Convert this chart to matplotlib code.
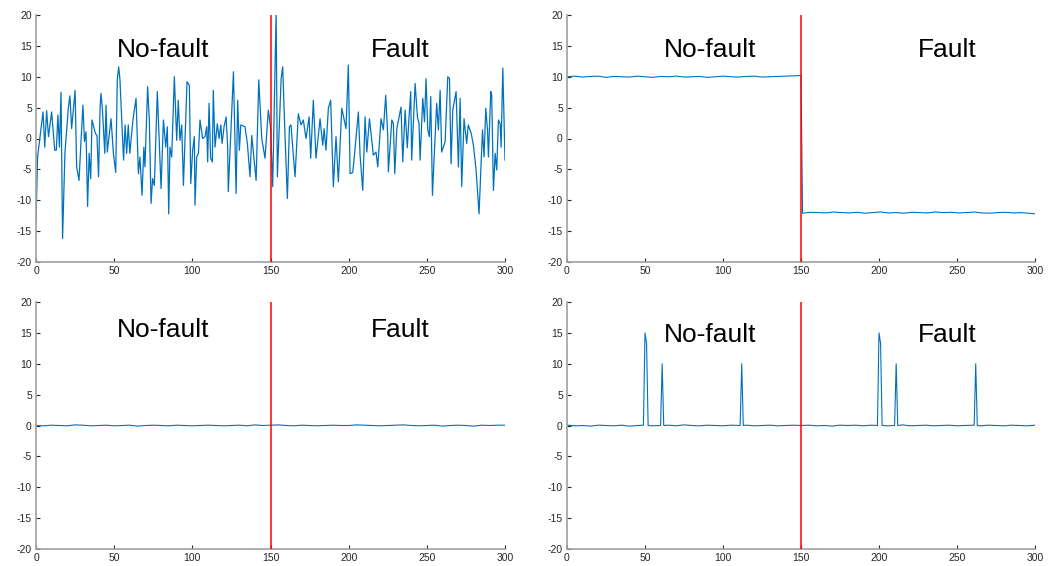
import numpy as np
import matplotlib
matplotlib.use("Agg")
import matplotlib.pyplot as plt

plt.rcParams['font.family'] = ['Liberation Sans', 'DejaVu Sans']
plt.rcParams['axes.unicode_minus'] = False

# panel 1 - noisy signal
t1 = [0, 1, 4.5, 5.6, 6.8, 8, 10, 12, 13, 14, 15, 16, 17, 18.5, 20.7, 21.7, 22.8, 25, 26, 27.5,
      30, 31, 32, 33, 34, 35, 35.8, 38, 39, 40, 41, 41.6, 42.5, 44, 44.8, 45.6, 48, 49.5, 51, 52,
      52.9, 53.7, 56, 57, 58, 59, 60, 62, 64, 65.5, 66.5, 67.8, 69, 69.7, 71.4, 72.5, 73.6, 74.6, 75.7, 77.6,
      80, 81.5, 83, 84, 84.9, 85.7, 86.8, 88.5, 90, 91, 92.1, 93.2, 94.3, 96.6, 98.1, 99, 100.2, 101.3, 101.7, 102.8,
      103.9, 104.9, 106.6, 108.1, 109.2, 109.8, 110.7, 111.7, 112.8, 113.4, 114.5, 116, 117.1, 118.2, 119, 120.3, 121.6, 122.6, 123, 125.2,
      126.3, 128, 129, 130.1, 131, 133.7, 135.2, 136.9, 138, 140.8, 142.5, 144.4, 146.5, 148.6, 150, 151.4, 153.6, 154.4, 156.8, 157.8,
      159.3, 160.8, 162.1, 163.1, 165.7, 167.8, 169.5, 171, 172.7, 174.7, 175.7, 177.4, 179.1, 181.7, 183.4, 184.3, 185.5, 187, 188.5, 190.2,
      191.9, 193.4, 195.6, 198.3, 199.8, 200.9, 202.6, 204, 206.2, 207.3, 209, 210.5, 211.6, 213.3, 215.8, 217.5, 218.6, 220.7, 222.2, 223.7,
      225, 225.4, 227.6, 228.6, 229.5, 230.8, 233.5, 234.6, 236.1, 237.5, 238.5, 239.7, 240.3, 241.4, 242.5, 244, 245, 245.7, 247.4, 248.5,
      249.5, 250.6, 251.6, 252.5, 253.6, 254.6, 256.3, 257.4, 258.5, 259.5, 261.7, 263.4, 264.5, 265.5, 266.6, 268.7, 270.2, 271.3, 272.3, 273.8,
      275.5, 276.5, 278.4, 279.8, 281.5, 283.4, 285.6, 286.6, 287.7, 288.8, 289.4, 290.9, 291.5, 292.6, 293.7, 294.7, 295.8, 296.9, 297.5, 298.6,
      300]
y1 = [-13.5, -3, 4.3, -1.4, 4.5, 0.3, 4.3, -1.9, -1.9, 3.8, -1.4, 7.5, -16.2, -2.4, 5, 6.9, 1.6, 7.8, -4.6, -6.8,
      5.4, -0.5, 1.1, -11, -2.4, -6.5, 3, 0.8, 0.5, -6.2, 5.1, 7.3, 4.6, -2.4, 5.4, -2.2, 3.2, -2.4, -5.5, 9.5,
      11.6, 9.5, -3.5, 2.2, -2.4, 2.2, -2.4, 3, 6.5, -5.7, -3, -9.2, -1.4, -4.6, 8.4, 3, -10.5, -6.5, -7.6, 7.6,
      -8.1, 3, -1.4, 1.9, -12.2, -1.4, -3, 10, -0.3, 6.2, -0.3, 2.2, -7.6, 9.2, 8.6, -7.3, -1.9, 0.3, -10.8, -3,
      -2.4, 3, 0, 0.3, 1.9, -3.8, 5.7, -3.2, -3.8, 7.8, -1.4, 2.4, 0, 2.2, -0.8, 1.9, 3.5, -1.4, -8.6, 4.6,
      10.8, -8.9, 6.2, -1.9, 2.2, 1.9, -0.8, -6.2, 0.5, -6.8, 9.5, 0, -3.2, 4.6, 1.9, -7.8, 20.5, -6.2, 9.7, 11.6,
      0.3, -9.7, 1.9, 2.2, -6.2, 4, 2.2, 3, 0, 3.5, -3.2, 6.2, -3.2, 3.2, -1.1, 1.6, -1.9, 4.9, 6.2, -7.8,
      0.3, -7, 4.9, 1.6, 11.9, -5.7, -5.5, -1.9, 4.3, -2.7, -8.4, 3.5, -2.2, 3.2, -2.7, -2.2, -4.6, 3.2, 1.4, 7,
      0.3, -5.4, 3, 2.4, -5.7, 1.6, 5.1, -3.8, 4.6, -1.5, 3, 7.6, -3.5, 2.7, 8.9, 3.5, 2.4, -3.5, 6.5, 2.7,
      9.7, 1.4, 0.3, 6.8, -9.2, -3.5, 5.7, 1.4, 7.8, -2.2, -0.5, 10, 9.7, -4.1, 4.6, 7.6, -4.6, 6.5, -7.8, 3.2,
      -0.8, 2.2, 0.8, -1.1, -5.1, -12.2, 1.4, -3, 4.9, 1.4, -3, 7.6, 7, -8.4, -2.4, -5.1, 3, 2.4, -1.4, 11.4,
      -3.5]

# panel 2 - level shift at 150
t2_nf = np.arange(0, 151, 5)
y2_nf = [10.0, 10.1, 9.95, 10.05, 10.1, 9.9, 10.05, 10.0, 9.95, 10.1, 10.0, 9.9, 10.05, 10.0, 10.1, 9.95,
         10.0, 10.05, 9.9, 10.0, 10.1, 10.0, 9.95, 10.05, 10.1, 9.95, 10.0, 10.05, 10.1, 10.15, 10.2]
t2_f = np.append(np.arange(151, 300, 5), 300)
y2_f = [-12.1, -11.95, -12.0, -12.05, -11.9, -12.0, -12.05, -11.95, -12.1, -12.0, -11.9, -12.05, -12.0, -12.1, -11.95,
        -12.0, -12.05, -11.9, -12.0, -11.95, -12.05, -12.0, -11.9, -12.05, -12.1, -12.0, -11.95, -12.05, -12.0, -12.1, -12.2]

# panel 3 - flat around zero
t3 = np.arange(0, 301, 5)
y3 = [0.0, -0.05, 0.05, 0.0, -0.05, 0.1, 0.05, -0.05, 0.0, 0.05, -0.05, 0.0, 0.05, -0.1, 0.0, 0.05,
      0.0, -0.05, 0.05, 0.0, -0.05, 0.0, 0.05, 0.0, -0.05, 0.0, 0.05, -0.05, 0.1, 0.0, 0.05, 0.1,
      0.0, -0.05, 0.05, 0.0, -0.05, 0.0, 0.05, 0.0, 0.0, 0.1, 0.05, 0.0, -0.05, 0.0, 0.05, 0.1,
      0.0, -0.05, 0.0, 0.05, -0.1, 0.0, 0.05, 0.0, -0.1, 0.05, 0.0, 0.05, 0.05]

# panel 4 - spikes
t4 = [0, 5, 10, 15, 20, 25, 30, 35, 40, 45,
      49, 50, 51, 52, 55, 60, 61, 62, 65, 70,
      75, 80, 85, 90, 95, 100, 105, 111, 112, 113,
      115, 120, 125, 130, 135, 140, 145, 150, 155, 160,
      165, 170, 175, 180, 185, 190, 195, 199, 200, 201,
      202, 205, 210, 211, 212, 215, 220, 225, 230, 235,
      240, 245, 250, 255, 261, 262, 263, 265, 270, 275,
      280, 285, 290, 295, 300]
y4 = [0.05, -0.05, 0.0, -0.1, 0.05, 0.0, -0.05, 0.05, -0.1, 0.0,
      0.05, 15, 13.3, 0.0, -0.05, 0.0, 10, 0.0, 0.05, -0.05,
      0.1, 0.0, -0.05, 0.05, 0.0, -0.05, 0.05, 0.0, 10, 0.0,
      0.05, -0.05, 0.0, 0.05, -0.05, 0.0, 0.05, 0.0, 0.05, -0.05,
      0.0, -0.1, 0.05, 0.0, 0.05, -0.05, 0.05, 0.0, 15, 13.3,
      0.0, -0.05, 0.0, 10, 0.0, 0.1, -0.05, 0.0, 0.05, -0.05,
      0.0, 0.05, -0.05, 0.0, 0.05, 10, 0.0, -0.05, 0.05, 0.0,
      -0.05, 0.05, 0.0, -0.05, 0.05]

fault_at = 150
xticks = [0, 50, 100, 150, 200, 250, 300]
yticks = [-20, -15, -10, -5, 0, 5, 10, 15, 20]

blue = '#0072BD'

fig = plt.figure(figsize=(10.48, 5.66), dpi=100)
boxes = [[36/1048, 1-262/566, 469/1048, 247/566],
         [567/1048, 1-262/566, 468/1048, 247/566],
         [36/1048, 1-549/566, 469/1048, 247/566],
         [567/1048, 1-549/566, 468/1048, 247/566]]
# label positions (x for "No-fault", x for "Fault", y)
labels = [(81, 233, 14.3), (92, 244, 14.3), (81, 233, 15.4), (92, 244, 14.6)]

axes = [fig.add_axes(b) for b in boxes]
axes[0].plot(t1, y1, color=blue, lw=0.9)
axes[1].plot(np.concatenate([t2_nf, t2_f]), np.concatenate([y2_nf, y2_f]), color=blue, lw=0.8)
axes[2].plot(t3, y3, color=blue, lw=0.8)
axes[3].plot(t4, y4, color=blue, lw=0.8)

for ax, (xn, xf, yl) in zip(axes, labels):
    ax.plot([fault_at, fault_at], [-20, 20], color='#FF0000', lw=1.1, zorder=3)
    ax.text(xn, yl, 'No-fault', fontsize=19, ha='center', va='center')
    ax.text(xf, yl, 'Fault', fontsize=19, ha='center', va='center')
    ax.set_xlim(0, 300)
    ax.set_ylim(-20, 20)
    ax.set_xticks(xticks)
    ax.set_yticks(yticks)
    ax.spines['top'].set_visible(False)
    ax.spines['right'].set_visible(False)
    for s in ['left', 'bottom']:
        ax.spines[s].set_color('#a0a0a0')
        ax.spines[s].set_linewidth(1.2)
    ax.tick_params(direction='in', length=3, width=0.8, color='#262626',
                   labelsize=7.5, labelcolor='#262626', pad=3)

fig.savefig('out.png', dpi=100)
